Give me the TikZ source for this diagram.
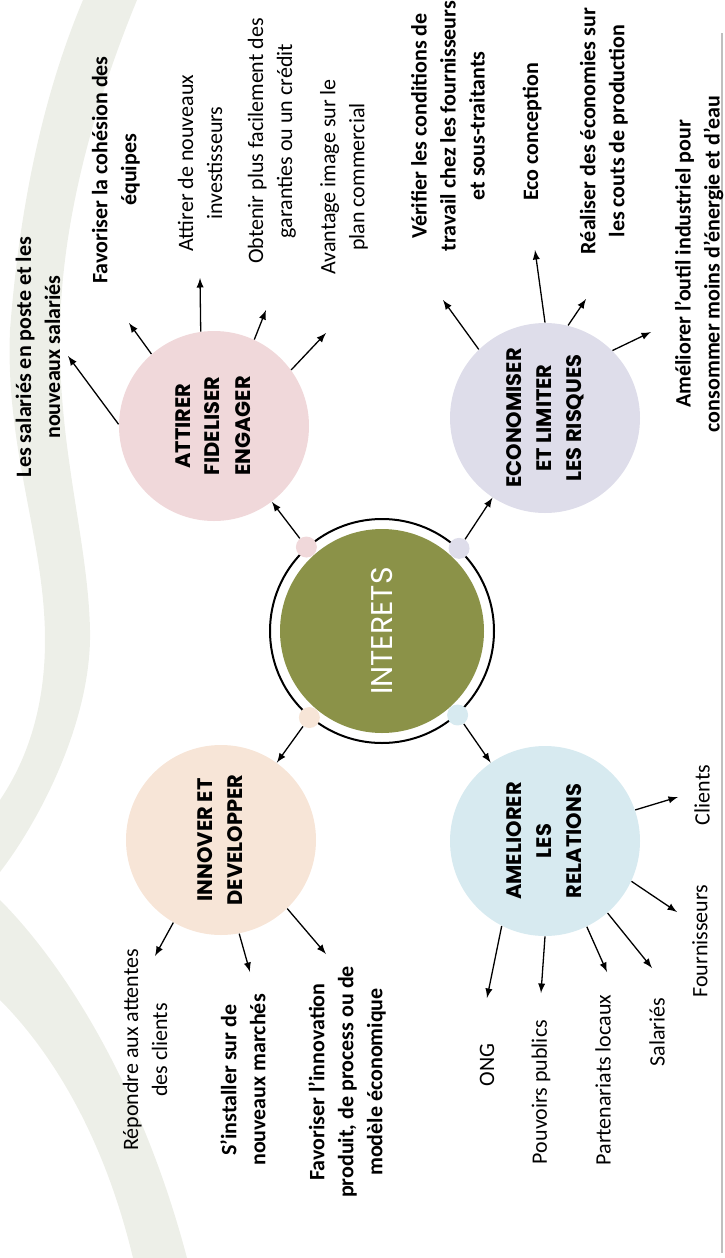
\documentclass[tikz,border=0pt]{standalone}
\usepackage{fontspec}
\setmainfont{Carlito}
\newfontfamily\gothic{Poppins}
\usetikzlibrary{positioning}
\definecolor{roseC}{HTML}{F0D8DA}
\definecolor{lilasC}{HTML}{DEDDEA}
\definecolor{pecheC}{HTML}{F7E5D7}
\definecolor{bleuC}{HTML}{D7EAF0}
\definecolor{oliveC}{HTML}{8B9248}
\definecolor{fondC}{HTML}{EDEFE8}
\newcommand{\rot}[1]{\rotatebox{90}{\begin{tabular}{@{}c@{}}#1\end{tabular}}}
\tikzset{
  pole/.style={circle, minimum size=95pt, inner sep=0pt, font=\gothic\bfseries\fontsize{10.5}{15}\selectfont},
  point/.style={circle, minimum size=10.5pt, inner sep=0pt},
  lab/.style={rotate=90, align=center, inner sep=0pt, font=\fontsize{11}{14.5}\selectfont},
  labb/.style={lab, font=\bfseries\fontsize{11}{14.5}\selectfont},
  fleche/.style={->, >=latex, line width=0.65pt}
}
\begin{document}
\begin{tikzpicture}[x=0.5pt,y=-0.5pt]
\useasboundingbox (0,0) rectangle (724,1258);
% fond
\fill[fondC] (83,0) .. controls (45,90) and (20,200) .. (10,330) .. controls (5,450) and (45,540) .. (45,640) .. controls (45,720) and (20,770) .. (0,800)
  -- (0,872) .. controls (40,820) and (92,720) .. (90,630) .. controls (88,540) and (58,450) .. (60,330) .. controls (62,210) and (100,90) .. (137,0) -- cycle;
\fill[fondC] (0,900) .. controls (60,960) and (140,1080) .. (187,1258) -- (133,1258) .. controls (100,1120) and (40,1040) .. (0,1000) -- cycle;
\draw[gray!50, line width=0.8pt] (722,33) -- (722,1253);

% centre
\node[circle, draw, line width=1pt, minimum size=112pt, inner sep=0pt] (anneau) at (382,631) {};
\node[circle, fill=oliveC, minimum size=102pt, inner sep=0pt, text=white, font=\gothic\fontsize{15}{17}\selectfont] (interets) at (382,631) {\rotatebox{90}{INTERETS}};
\node[point, fill=roseC] (pr) at (anneau.132) {};
\node[point, fill=lilasC] (pl) at (anneau.47) {};
\node[point, fill=pecheC] (pp) at (anneau.230) {};
\node[point, fill=bleuC] (pb) at (anneau.312) {};

% poles
\node[pole, fill=roseC] (rose) at (214,426) {\rot{ATTIRER\\FIDELISER\\ENGAGER}};
\node[pole, fill=lilasC] (lilas) at (545,418) {\rot{ECONOMISER\\ET LIMITER\\LES RISQUES}};
\node[pole, fill=pecheC] (peche) at (221,840) {\rot{INNOVER ET\\DEVELOPPER}};
\node[pole, fill=bleuC] (bleu) at (545,841) {\rot{AMELIORER\\LES\\RELATIONS}};

\draw[fleche] (pr) -- (rose);
\draw[fleche] (pl) -- (lilas);
\draw[fleche] (pp) -- (peche);
\draw[fleche] (pb) -- (bleu);

% attirer
\node[labb] (salaries) at (38,357) {Les salariés en poste et les\\nouveaux salariés};
\node[labb] (cohesion) at (116,170) {Favoriser la cohésion des\\équipes};
\node[lab] (investisseurs) at (200,163) {Attirer de nouveaux\\investisseurs};
\node[lab] (credit) at (272,141) {Obtenir plus facilement des\\garanties ou un crédit};
\node[lab] (image) at (344,177) {Avantage image sur le\\plan commercial};
\coordinate (ta) at (68,356);
\coordinate (tb) at (129,323);
\coordinate (tc) at (200,278);
\coordinate (td) at (266,310);
\coordinate (te) at (326,333);
\draw[fleche] (rose.179) -- (ta);
\draw[fleche] (rose.131) -- (tb);
\draw[fleche] (rose.98) -- (tc);
\draw[fleche] (rose.65) -- (td);
\draw[fleche] (rose.36) -- (te);

% economiser
\node[labb] (verifier) at (448,126) {Vérifier les conditions de\\travail chez les fournisseurs\\et sous-traitants};
\node[labb] (eco) at (532,132) {Eco conception};
\node[labb] (couts) at (604,131) {Réaliser des économies sur\\les couts de production};
\node[labb] (outil) at (699,264) {Améliorer l’outil industriel pour\\consommer moins d’énergie et d’eau};
\coordinate (tf) at (443,300);
\coordinate (tg) at (535,250);
\coordinate (th) at (586,299);
\coordinate (ti) at (651,332);
\draw[fleche] (lilas.134) -- (tf);
\draw[fleche] (lilas.90) -- (tg);
\draw[fleche] (lilas.76) -- (th);
\draw[fleche] (lilas.45) -- (ti);

% innover
\node[lab] (attentes) at (145,1050) {Répondre aux attentes\\des clients};
\node[labb] (marches) at (243,1080) {S’installer sur de\\nouveaux marchés};
\node[labb] (innovation) at (347,1082) {Favoriser l’innovation\\produit, de process ou de\\modèle économique};
\coordinate (tj) at (155,956);
\coordinate (tk) at (250,972);
\coordinate (tl) at (326,954);
\draw[fleche] (peche.240) -- (tj);
\draw[fleche] (peche.281) -- (tk);
\draw[fleche] (peche.314) -- (tl);

% relations
\node[lab] (ong) at (487,1065) {ONG};
\node[lab] (pouvoirs) at (541,1092) {Pouvoirs publics};
\node[lab] (partenariats) at (603,1080) {Partenariats locaux};
\node[lab] (salaries2) at (657,1032) {Salariés};
\node[lab] (fournisseurs) at (700,941) {Fournisseurs};
\node[lab] (clients) at (702,795) {Clients};
\coordinate (tm) at (678,797);
\coordinate (tn) at (677,912);
\coordinate (to) at (652,968);
\coordinate (tp) at (607,972);
\coordinate (tq) at (541,993);
\coordinate (tr) at (487,998);
\draw[fleche] (bleu.19) -- (tm);
\draw[fleche] (bleu.335) -- (tn);
\draw[fleche] (bleu.311) -- (to);
\draw[fleche] (bleu.296) -- (tp);
\draw[fleche] (bleu.270) -- (tq);
\draw[fleche] (bleu.243) -- (tr);
\end{tikzpicture}
\end{document}
